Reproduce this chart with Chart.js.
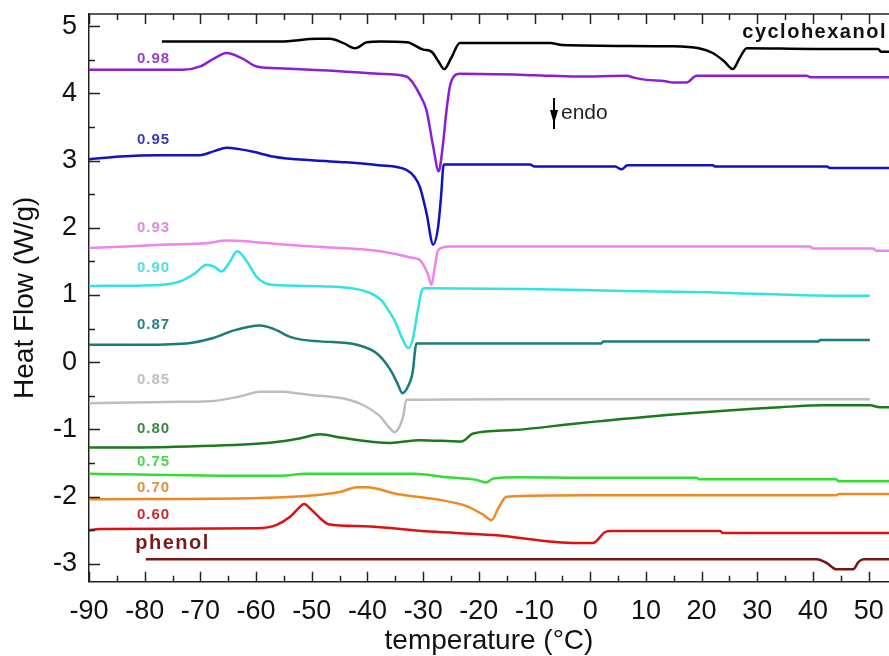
<!DOCTYPE html>
<html>
<head>
<meta charset="utf-8">
<script src="https://cdn.jsdelivr.net/npm/chart.js@4.4.1/dist/chart.umd.min.js"></script>
<style>
  html, body { margin: 0; padding: 0; background: #fff; }
  canvas { display: block; }
</style>
</head>
<body>
<canvas id="dsc" width="889" height="656"></canvas>
<script>
(function () {
  // temperature (°C) / heat flow (W/g)
  const cyclohexanolT = [-76.9, -55.7, -49, -46.7, -44.4, -42.2, -40.1, -37.7, -32.9, -30, -28.5, -27.3, -26.2, -25, -23.4, -7.2, -5, 14.9, 19.5, 22, 24, 25.6, 26.8, 28.1, 40, 51.7, 52.2, 53.7];
  const cyclohexanolHF = [4.77, 4.77, 4.81, 4.81, 4.75, 4.67, 4.76, 4.77, 4.76, 4.65, 4.62, 4.48, 4.36, 4.52, 4.75, 4.75, 4.72, 4.70, 4.67, 4.60, 4.48, 4.36, 4.52, 4.67, 4.66, 4.66, 4.62, 4.62];

  const x98T = [-90, -73.1, -70, -67.5, -65.3, -62.5, -59.9, -55, -45, -38, -33, -31.8, -30.6, -29.4, -28.2, -27.2, -26.5, -25.8, -25.2, -24.5, -23.4, -10, -2.4, 6.5, 8, 10.1, 13.5, 14.9, 17.3, 19.1, 38.9, 39.5, 53.7];
  const x98HF = [4.35, 4.35, 4.40, 4.52, 4.60, 4.52, 4.40, 4.37, 4.33, 4.29, 4.25, 4.15, 3.98, 3.75, 3.21, 2.84, 3.20, 3.75, 4.10, 4.25, 4.29, 4.27, 4.25, 4.26, 4.23, 4.20, 4.18, 4.16, 4.16, 4.26, 4.26, 4.24, 4.24];

  const x95T = [-90, -84.4, -77.8, -70.1, -67.5, -65.3, -63, -60.5, -57, -54.5, -45, -38, -33, -31.5, -30.6, -29.4, -28.2, -27.3, -26.8, -26.3, -20, -10.8, -10, 4.5, 5.6, 6.7, 22, 22.5, 42.5, 43, 53.7];
  const x95HF = [3.02, 3.06, 3.08, 3.08, 3.14, 3.19, 3.17, 3.13, 3.06, 3.03, 2.98, 2.93, 2.86, 2.75, 2.61, 2.22, 1.75, 2.02, 2.45, 2.94, 2.94, 2.94, 2.91, 2.91, 2.87, 2.93, 2.93, 2.91, 2.91, 2.89, 2.89];

  const x93T = [-90, -83.2, -76, -68.9, -65.3, -60.5, -56.3, -49.7, -37.7, -31.8, -30.6, -29.1, -28.5, -27.9, -27.3, -25.2, 10, 39.5, 40, 50.8, 51.3, 53.7];
  const x93HF = [1.70, 1.72, 1.75, 1.77, 1.81, 1.79, 1.76, 1.72, 1.65, 1.55, 1.52, 1.30, 1.15, 1.42, 1.67, 1.72, 1.72, 1.72, 1.69, 1.69, 1.66, 1.66];

  const x90T = [-90, -77.3, -73.7, -71, -68.9, -67.5, -66.2, -64.8, -63.4, -61.5, -59.9, -58.5, -56.9, -46.7, -39.5, -37.5, -35.9, -35, -33.9, -32.7, -31.9, -31, -30.3, -29.8, -11.4, 6, 20.9, 32.9, 44, 50.2];
  const x90HF = [1.135, 1.15, 1.20, 1.32, 1.45, 1.42, 1.35, 1.48, 1.65, 1.48, 1.27, 1.18, 1.15, 1.125, 1.03, 0.92, 0.73, 0.60, 0.38, 0.21, 0.33, 0.75, 1.05, 1.10, 1.09, 1.06, 1.04, 1.01, 0.99, 0.99];

  const x87T = [-90, -82, -72.5, -67.7, -64.1, -59.3, -57, -55.7, -54, -52.1, -48.5, -41.9, -38.3, -35.9, -34.7, -33.7, -32.5, -31.9, -31.2, 2, 2.3, 41, 41.3, 50.2];
  const x87HF = [0.26, 0.26, 0.28, 0.36, 0.47, 0.545, 0.50, 0.45, 0.38, 0.34, 0.31, 0.26, 0.13, -0.11, -0.30, -0.46, -0.32, -0.16, 0.28, 0.28, 0.31, 0.31, 0.33, 0.33];

  const x85T = [-90, -76, -68.3, -62.9, -59.3, -55.1, -52, -49.7, -43.7, -40.7, -37.7, -36.3, -35.1, -34.2, -33.6, -33, -15, 50.2];
  const x85HF = [-0.61, -0.59, -0.58, -0.51, -0.44, -0.44, -0.47, -0.49, -0.55, -0.64, -0.81, -0.95, -1.04, -0.95, -0.81, -0.56, -0.55, -0.55];

  const x80T = [-90, -75.5, -59.3, -55.7, -52, -48.5, -44.9, -35.9, -30.6, -23.1, -21, -13.8, -2.4, 16.1, 34.1, 41.9, 50.2, 52, 53.7];
  const x80HF = [-1.27, -1.26, -1.21, -1.18, -1.13, -1.07, -1.12, -1.20, -1.16, -1.18, -1.06, -1.01, -0.91, -0.77, -0.67, -0.64, -0.64, -0.67, -0.67];

  const x75T = [-90, -57.5, -55.7, -50.9, -31.8, -25.8, -20.4, -18.7, -17.4, -12.6, 0, 19.1, 19.5, 44.2, 44.6, 53.7];
  const x75HF = [-1.66, -1.69, -1.69, -1.66, -1.66, -1.71, -1.75, -1.79, -1.73, -1.71, -1.72, -1.72, -1.74, -1.74, -1.77, -1.77];

  const x70T = [-90, -59.3, -53.3, -48.5, -44.9, -41.9, -40.1, -34.7, -27.6, -22.2, -19.2, -17.7, -16.5, -15, 0, 44.2, 44.6, 53.7];
  const x70HF = [-2.04, -2.02, -2.00, -1.97, -1.93, -1.86, -1.86, -1.96, -2.04, -2.14, -2.27, -2.35, -2.17, -2.00, -1.98, -1.98, -1.96, -1.96];

  const x60T = [-90, -88, -59.9, -56.3, -53.9, -52.1, -51.4, -50, -48.5, -47, -40.7, -28.8, -17.4, -2.4, 0.5, 2.6, 3.5, 23.3, 23.8, 53.7];
  const x60HF = [-2.50, -2.48, -2.47, -2.42, -2.30, -2.15, -2.11, -2.20, -2.32, -2.41, -2.44, -2.52, -2.57, -2.69, -2.69, -2.53, -2.51, -2.51, -2.54, -2.54];

  const phenolT = [-79.8, 40.7, 42.5, 44.2, 47.2, 48.2, 49.1, 53.7];
  const phenolHF = [-2.93, -2.93, -2.99, -3.08, -3.08, -2.97, -2.93, -2.93];

  const seriesNames = ["cyclohexanol", "0.98", "0.95", "0.93", "0.90", "0.87", "0.85", "0.80", "0.75", "0.70", "0.60", "phenol"];
  const seriesT = [cyclohexanolT, x98T, x95T, x93T, x90T, x87T, x85T, x80T, x75T, x70T, x60T, phenolT];
  const seriesHF = [cyclohexanolHF, x98HF, x95HF, x93HF, x90HF, x87HF, x85HF, x80HF, x75HF, x70HF, x60HF, phenolHF];
  const seriesColors = ["#000000", "#8a1fd6", "#1212c4", "#ee84ee", "#33e3e3", "#1b7a7a", "#bdbdbd", "#1c7a1c", "#33dd33", "#ee8a22", "#dd1111", "#7a1515"];
  const labelColors = ["#111111", "#9440d0", "#3a3ab8", "#e08ae0", "#55dcdc", "#2a8080", "#c0c0c0", "#3a8a3a", "#44d844", "#dc9040", "#cc2a2a", "#7a1a1a"];

  // where each curve's text label sits (temperature, heat flow)
  const labelT = [27.3, -81.4, -81.4, -81.4, -81.4, -81.4, -81.4, -81.4, -81.4, -81.4, -81.4, -81.7];
  const labelHF = [4.9, 4.52, 3.31, 2.0, 1.4, 0.555, -0.26, -0.99, -1.48, -1.875, -2.27, -2.69];

  const xTicks = [-90, -80, -70, -60, -50, -40, -30, -20, -10, 0, 10, 20, 30, 40, 50];
  const yTicks = [-3, -2, -1, 0, 1, 2, 3, 4, 5];

  const FONT = "'Liberation Sans', Arial, sans-serif";

  const datasets = seriesNames.map((name, i) => ({
    label: name,
    data: seriesT[i].map((t, k) => ({ x: t, y: seriesHF[i][k] })),
    borderColor: seriesColors[i],
    borderWidth: 2.5,
    pointRadius: 0,
    showLine: true,
    fill: false,
    cubicInterpolationMode: "monotone",
  }));

  // keep the plot box fixed: no extra room for edge labels
  function noPad(s) {
    s.paddingLeft = 0; s.paddingRight = 0; s.paddingTop = 0; s.paddingBottom = 0;
  }

  // inward ticks, top frame line, curve labels and the endo arrow
  const decor = {
    id: "decor",
    afterDraw(chart) {
      const { ctx, chartArea: a, scales } = chart;
      const xs = scales.x, ys = scales.y;
      ctx.save();
      ctx.strokeStyle = "#222";
      ctx.lineWidth = 1.5;
      ctx.beginPath();
      ctx.moveTo(a.left, a.top);
      ctx.lineTo(a.right, a.top);
      ctx.stroke();

      ctx.beginPath();
      xTicks.forEach((t) => {
        [t, t + 5].forEach((v, j) => {
          const px = Math.round(xs.getPixelForValue(v)) + 0.5;
          if (px > a.right) return;
          const len = j === 0 ? 10 : 6;
          ctx.moveTo(px, a.bottom); ctx.lineTo(px, a.bottom - len);
          ctx.moveTo(px, a.top); ctx.lineTo(px, a.top + len);
        });
      });
      yTicks.forEach((t) => {
        [t, t + 0.5].forEach((v, j) => {
          const py = Math.round(ys.getPixelForValue(v)) + 0.5;
          if (py < a.top) return;
          const len = j === 0 ? 11 : 6;
          ctx.moveTo(a.left, py); ctx.lineTo(a.left + len, py);
        });
      });
      ctx.stroke();

      ctx.textBaseline = "middle";
      ctx.textAlign = "left";
      seriesNames.forEach((name, i) => {
        const big = name.length > 4;
        ctx.font = (big ? "bold 20px " : "bold 15px ") + FONT;
        ctx.letterSpacing = big ? "1.5px" : "1px";
        ctx.fillStyle = labelColors[i];
        ctx.fillText(name, xs.getPixelForValue(labelT[i]), ys.getPixelForValue(labelHF[i]));
      });

      // endo marker
      const ax = Math.round(xs.getPixelForValue(-6.5));
      const y0 = ys.getPixelForValue(3.93), y1 = ys.getPixelForValue(3.47);
      ctx.strokeStyle = "#000";
      ctx.lineWidth = 2;
      ctx.beginPath(); ctx.moveTo(ax, y0); ctx.lineTo(ax, y1); ctx.stroke();
      ctx.fillStyle = "#000";
      ctx.beginPath();
      ctx.moveTo(ax - 4, y0 + 12);
      ctx.lineTo(ax + 4, y0 + 12);
      ctx.lineTo(ax, y0 + 26);
      ctx.closePath();
      ctx.fill();
      ctx.letterSpacing = "0px";
      ctx.font = "21px " + FONT;
      ctx.fillStyle = "#222";
      ctx.fillText("endo", ax + 7, (y0 + y1) / 2);
      ctx.restore();
    },
  };

  const canvas = document.getElementById("dsc");
  new Chart(canvas.getContext("2d"), {
    type: "scatter",
    data: { datasets: datasets },
    options: {
      responsive: false,
      animation: false,
      layout: { padding: { top: 14, right: 0, left: 0, bottom: 0 } },
      plugins: { legend: { display: false }, tooltip: { enabled: false } },
      scales: {
        x: {
          type: "linear",
          min: -90,
          max: 53.65,
          afterFit: (s) => { s.height = 74.3; noPad(s); },
          grid: { display: false, drawTicks: false },
          border: { display: true, color: "#222", width: 1.5 },
          ticks: {
            stepSize: 10,
            includeBounds: false,
            autoSkip: false,
            maxRotation: 0,
            padding: 14,
            color: "#111",
            font: { family: FONT, size: 27 },
          },
          title: {
            display: true,
            text: "temperature (°C)",
            color: "#111",
            font: { family: FONT, size: 28 },
            padding: { top: 0, bottom: -2 },
          },
        },
        y: {
          type: "linear",
          min: -3.265,
          max: 5.18,
          afterFit: (s) => { s.width = 89; noPad(s); },
          grid: { display: false, drawTicks: false },
          border: { display: true, color: "#222", width: 1.5 },
          ticks: {
            stepSize: 1,
            includeBounds: false,
            padding: 12,
            color: "#111",
            font: { family: FONT, size: 27 },
          },
          title: {
            display: true,
            text: "Heat Flow (W/g)",
            color: "#111",
            font: { family: FONT, size: 28 },
            padding: { top: 8, bottom: 0 },
          },
        },
      },
    },
    plugins: [decor],
  });
})();
</script>
</body>
</html>
